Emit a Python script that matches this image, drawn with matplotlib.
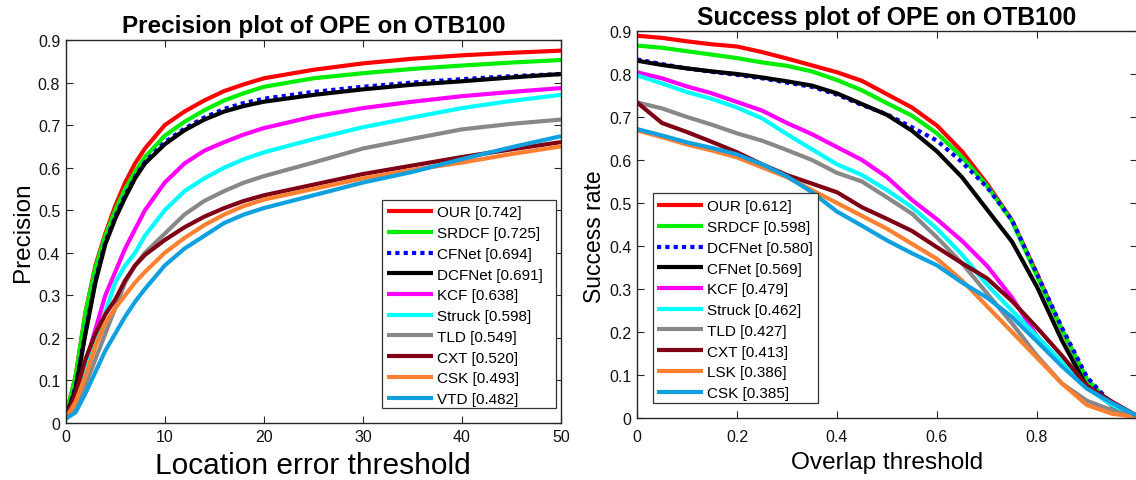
import matplotlib
matplotlib.use("Agg")
import matplotlib.pyplot as plt
from matplotlib.patches import Rectangle

plt.rcParams['font.family'] = ['Liberation Sans', 'DejaVu Sans']

# ---------------- Precision plot data ----------------
prec_x = [0, 1, 2, 3, 4, 5, 6, 7, 8, 10, 12, 14, 16, 18, 20, 25, 30, 35, 40, 45, 50]
prec_names = ["OUR [0.742]", "SRDCF [0.725]", "CFNet [0.694]", "DCFNet [0.691]", "KCF [0.638]",
              "Struck [0.598]", "TLD [0.549]", "CXT [0.520]", "CSK [0.493]", "VTD [0.482]"]
prec_our = [0.015, 0.11, 0.26, 0.37, 0.445, 0.51, 0.565, 0.61, 0.645, 0.70, 0.732, 0.758, 0.78, 0.796, 0.81, 0.83, 0.845, 0.856, 0.864, 0.870, 0.875]
prec_srdcf = [0.015, 0.11, 0.26, 0.365, 0.44, 0.50, 0.55, 0.59, 0.625, 0.675, 0.708, 0.735, 0.758, 0.775, 0.79, 0.81, 0.822, 0.832, 0.84, 0.847, 0.853]
prec_cfnet = [0.013, 0.085, 0.215, 0.335, 0.425, 0.485, 0.535, 0.578, 0.613, 0.66, 0.692, 0.718, 0.738, 0.752, 0.762, 0.778, 0.79, 0.80, 0.808, 0.815, 0.82]
prec_dcfnet = [0.012, 0.08, 0.21, 0.33, 0.42, 0.48, 0.53, 0.575, 0.61, 0.655, 0.688, 0.713, 0.732, 0.745, 0.755, 0.771, 0.784, 0.795, 0.803, 0.812, 0.82]
prec_kcf = [0.012, 0.06, 0.14, 0.22, 0.30, 0.355, 0.41, 0.455, 0.50, 0.565, 0.61, 0.64, 0.66, 0.678, 0.693, 0.72, 0.74, 0.755, 0.768, 0.778, 0.787]
prec_struck = [0.012, 0.06, 0.13, 0.19, 0.26, 0.33, 0.37, 0.40, 0.44, 0.50, 0.545, 0.575, 0.60, 0.62, 0.636, 0.667, 0.695, 0.718, 0.74, 0.757, 0.771]
prec_tld = [0.01, 0.03, 0.09, 0.15, 0.21, 0.27, 0.33, 0.37, 0.40, 0.445, 0.49, 0.522, 0.545, 0.565, 0.58, 0.612, 0.645, 0.668, 0.69, 0.703, 0.713]
prec_cxt = [0.01, 0.07, 0.15, 0.21, 0.255, 0.29, 0.335, 0.37, 0.395, 0.43, 0.46, 0.485, 0.505, 0.522, 0.535, 0.56, 0.585, 0.605, 0.625, 0.643, 0.66]
prec_csk = [0.01, 0.05, 0.11, 0.18, 0.235, 0.27, 0.30, 0.33, 0.355, 0.40, 0.435, 0.465, 0.49, 0.51, 0.525, 0.55, 0.575, 0.595, 0.612, 0.632, 0.65]
prec_vtd = [0.01, 0.025, 0.07, 0.12, 0.17, 0.21, 0.25, 0.285, 0.315, 0.37, 0.41, 0.44, 0.47, 0.49, 0.505, 0.535, 0.565, 0.59, 0.62, 0.648, 0.674]

# ---------------- Success plot data ----------------
succ_x = [0.0, 0.05, 0.1, 0.15, 0.2, 0.25, 0.3, 0.35, 0.4, 0.45, 0.5, 0.55, 0.6, 0.65, 0.7, 0.75, 0.8, 0.85, 0.9, 0.95, 1.0]
succ_names = ["OUR [0.612]", "SRDCF [0.598]", "DCFNet [0.580]", "CFNet [0.569]", "KCF [0.479]",
              "Struck [0.462]", "TLD [0.427]", "CXT [0.413]", "LSK [0.386]", "CSK [0.385]"]
succ_our = [0.889, 0.884, 0.876, 0.869, 0.864, 0.851, 0.836, 0.82, 0.804, 0.784, 0.753, 0.722, 0.68, 0.62, 0.545, 0.46, 0.335, 0.205, 0.088, 0.028, 0.004]
succ_srdcf = [0.866, 0.861, 0.853, 0.845, 0.837, 0.827, 0.819, 0.806, 0.786, 0.762, 0.732, 0.703, 0.662, 0.607, 0.54, 0.458, 0.33, 0.205, 0.09, 0.03, 0.005]
succ_dcfnet = [0.834, 0.823, 0.813, 0.805, 0.798, 0.79, 0.78, 0.77, 0.752, 0.728, 0.706, 0.676, 0.645, 0.595, 0.537, 0.46, 0.335, 0.21, 0.095, 0.032, 0.005]
succ_cfnet = [0.831, 0.821, 0.813, 0.806, 0.80, 0.792, 0.783, 0.773, 0.755, 0.73, 0.705, 0.668, 0.62, 0.56, 0.485, 0.41, 0.305, 0.18, 0.072, 0.03, 0.004]
succ_kcf = [0.804, 0.79, 0.771, 0.755, 0.735, 0.715, 0.686, 0.66, 0.63, 0.60, 0.56, 0.507, 0.462, 0.412, 0.354, 0.28, 0.19, 0.125, 0.07, 0.032, 0.005]
succ_struck = [0.797, 0.778, 0.758, 0.742, 0.722, 0.697, 0.66, 0.625, 0.59, 0.565, 0.53, 0.49, 0.44, 0.38, 0.31, 0.25, 0.19, 0.13, 0.07, 0.03, 0.004]
succ_tld = [0.734, 0.72, 0.70, 0.682, 0.662, 0.645, 0.623, 0.60, 0.57, 0.55, 0.513, 0.475, 0.42, 0.36, 0.29, 0.22, 0.145, 0.08, 0.04, 0.018, 0.002]
succ_cxt = [0.734, 0.686, 0.665, 0.642, 0.618, 0.59, 0.565, 0.545, 0.525, 0.49, 0.463, 0.435, 0.397, 0.36, 0.325, 0.272, 0.21, 0.145, 0.075, 0.038, 0.005]
succ_lsk = [0.669, 0.653, 0.636, 0.622, 0.606, 0.583, 0.56, 0.53, 0.50, 0.47, 0.44, 0.405, 0.37, 0.32, 0.26, 0.20, 0.14, 0.08, 0.03, 0.01, 0.002]
succ_csk = [0.672, 0.657, 0.641, 0.628, 0.613, 0.59, 0.562, 0.525, 0.48, 0.447, 0.413, 0.383, 0.355, 0.315, 0.28, 0.235, 0.178, 0.12, 0.068, 0.035, 0.005]

# ---------------- Styles ----------------
C_RED, C_GREEN, C_BLUE, C_BLACK = '#ff0000', '#00ee00', '#0000ff', '#000000'
C_MAG, C_CYAN, C_GRAY, C_DRED = '#ff00ff', '#00ffff', '#888888', '#7f0015'
C_ORANGE, C_LBLUE = '#ff8030', '#10a0e0'
DOT = (0, (1, 1))

prec_series = [prec_our, prec_srdcf, prec_cfnet, prec_dcfnet, prec_kcf,
               prec_struck, prec_tld, prec_cxt, prec_csk, prec_vtd]
prec_colors = [C_RED, C_GREEN, C_BLUE, C_BLACK, C_MAG, C_CYAN, C_GRAY, C_DRED, C_ORANGE, C_LBLUE]
prec_styles = ['-', '-', DOT, '-', '-', '-', '-', '-', '-', '-']

succ_series = [succ_our, succ_srdcf, succ_dcfnet, succ_cfnet, succ_kcf,
               succ_struck, succ_tld, succ_cxt, succ_lsk, succ_csk]
succ_colors = [C_RED, C_GREEN, C_BLUE, C_BLACK, C_MAG, C_CYAN, C_GRAY, C_DRED, C_ORANGE, C_LBLUE]
succ_styles = ['-', '-', DOT, '-', '-', '-', '-', '-', '-', '-']

W, H = 1136, 481
fig = plt.figure(figsize=(W / 100, H / 100), dpi=100)

def px_axes(x0, y0, x1, y1):
    return fig.add_axes([x0 / W, 1 - y1 / H, (x1 - x0) / W, (y1 - y0) / H])

ax1 = px_axes(65.7, 41, 561, 424)
ax2 = px_axes(637, 32, 1137, 419)

LW = 3.0
for ys, c, ls, nm in zip(prec_series, prec_colors, prec_styles, prec_names):
    ax1.plot(prec_x, ys, color=c, linestyle=ls, linewidth=LW, label=nm, solid_capstyle='butt')
for ys, c, ls, nm in zip(succ_series, succ_colors, succ_styles, succ_names):
    ax2.plot(succ_x, ys, color=c, linestyle=ls, linewidth=LW, label=nm, solid_capstyle='butt')

yt = [0, 0.1, 0.2, 0.3, 0.4, 0.5, 0.6, 0.7, 0.8, 0.9]
ytl = ['0', '0.1', '0.2', '0.3', '0.4', '0.5', '0.6', '0.7', '0.8', '0.9']

ax1.set_xlim(0, 50)
ax1.set_ylim(0, 0.9)
ax1.set_xticks([0, 10, 20, 30, 40, 50])
ax1.set_xticklabels(['0', '10', '20', '30', '40', '50'])
ax2.set_xlim(0, 1)
ax2.set_ylim(0, 0.9)
ax2.set_xticks([0, 0.2, 0.4, 0.6, 0.8])
ax2.set_xticklabels(['0', '0.2', '0.4', '0.6', '0.8'])

for ax in (ax1, ax2):
    ax.set_yticks(yt)
    ax.set_yticklabels(ytl)
    ax.tick_params(direction='in', top=True, right=True, length=5, width=0.8,
                   labelsize=11.5, pad=4, colors='#262626')
    ax.tick_params(labelcolor='#111111')
    for s in ax.spines.values():
        s.set_linewidth(1.0)
        s.set_color('#262626')
ax2.tick_params(axis='x', pad=8)

ax1.set_title("Precision plot of OPE on OTB100", fontsize=17.5, fontweight='bold', pad=6)
ax2.set_title("Success plot of OPE on OTB100", fontsize=17.8, fontweight='bold', pad=5)
ax1.set_xlabel("Location error threshold", fontsize=21.5, labelpad=5)
ax1.set_ylabel("Precision", fontsize=17.5, labelpad=2.5)
ax2.set_xlabel("Overlap threshold", fontsize=17.6, labelpad=5)
ax2.set_ylabel("Success rate", fontsize=16.5)
ax2.yaxis.set_label_coords(-0.062, 0.47)

def add_legend(ax, hx, hy, box):
    leg = ax.legend(loc='upper left', bbox_to_anchor=(hx / W, 1 - hy / H),
                    bbox_transform=fig.transFigure, fontsize=11, frameon=False,
                    borderaxespad=0, borderpad=0,
                    labelspacing=0.44, handlelength=3.0, handletextpad=0.25)
    for l in leg.get_lines():
        l.set_linewidth(3.0)
    bx0, by0, bx1, by1 = box
    rect = Rectangle((bx0 / W, 1 - by1 / H), (bx1 - bx0) / W, (by1 - by0) / H,
                     transform=fig.transFigure, facecolor='white',
                     edgecolor='#333333', linewidth=0.9, zorder=4, clip_on=False)
    ax.add_patch(rect)
    leg.set_zorder(10)
    return leg

add_legend(ax1, 387, 206.5, (382, 201, 556, 409))
add_legend(ax2, 657, 200.5, (653, 194, 818, 404))

fig.savefig("out.png", dpi=100)
